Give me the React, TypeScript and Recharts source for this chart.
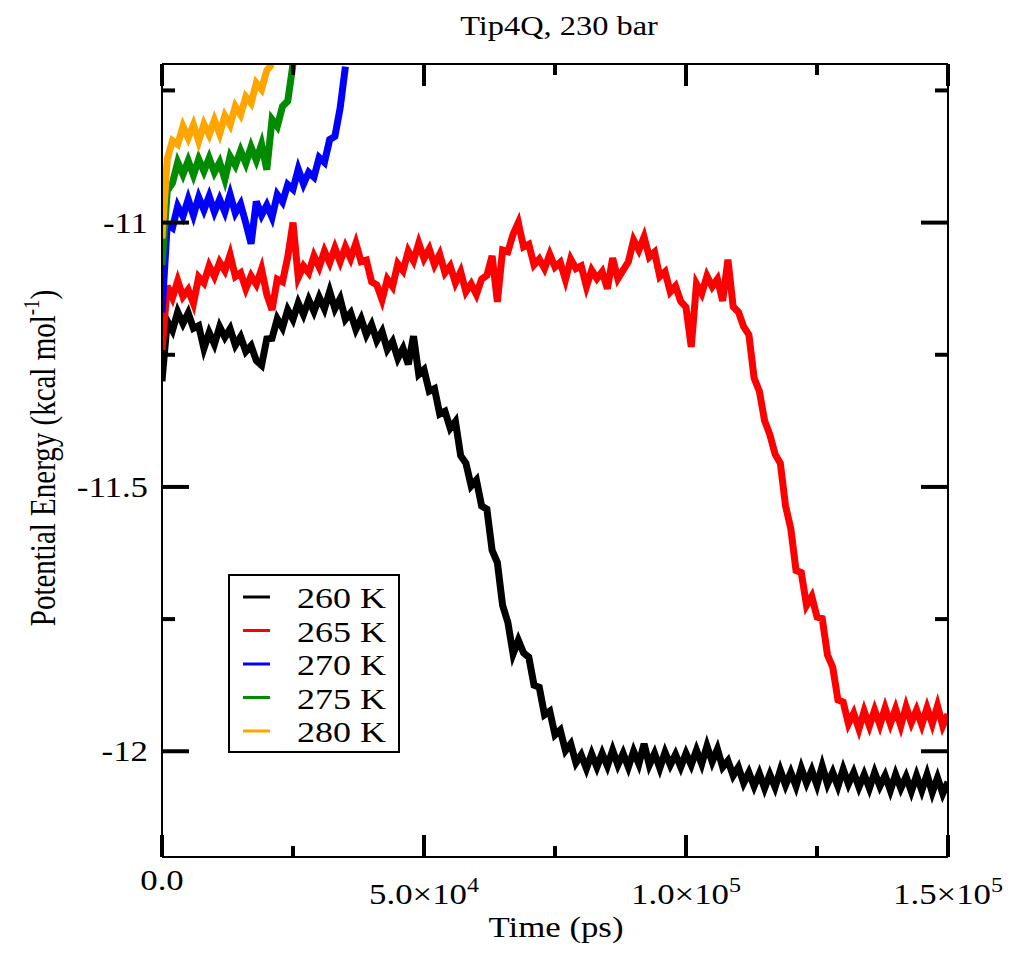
import React from 'react';
import { LineChart, Line, XAxis, YAxis, Legend } from 'recharts';

const FONT = '"Liberation Serif", "Times New Roman", serif';
const TEXT_STYLE = { fontFamily: FONT };

const TITLE = 'Tip4Q, 230 bar';
const X_TITLE = 'Time (ps)';
const SERIES_NAMES = ['260 K', '265 K', '270 K', '275 K', '280 K'];
const SERIES_KEYS = ['k260', 'k265', 'k270', 'k275', 'k280'];
const SERIES_COLORS = ['#000000', '#ff0000', '#0000ff', '#008b00', '#ffa500'];

// samples are 1000 ps apart, starting at t = 0
const TIME_STEP = 1000;

const X_TICKS = [0, 25000, 50000, 75000, 100000, 125000, 150000];
const X_MAJOR = [0, 50000, 100000, 150000];
const X_LABELS: Record<number, [string, string]> = {
  0: ['0.0', ''],
  50000: ['5.0×10', '4'],
  100000: ['1.0×10', '5'],
  150000: ['1.5×10', '5'],
};
const Y_TICKS = [-12, -11.75, -11.5, -11.25, -11, -10.75];
const Y_MAJOR = [-12, -11.5, -11];
const Y_LABELS: Record<string, string> = { '-12': '-12', '-11.5': '-11.5', '-11': '-11' };

// 260 K
const K260 = [
  -11.300, -11.186, -11.204, -11.169, -11.191, -11.171, -11.200, -11.195, -11.238, -11.208,
  -11.230, -11.197, -11.217, -11.201, -11.232, -11.216, -11.244, -11.233, -11.261, -11.270,
  -11.220, -11.219, -11.182, -11.199, -11.165, -11.183, -11.152, -11.174, -11.146, -11.168,
  -11.141, -11.163, -11.130, -11.163, -11.144, -11.183, -11.171, -11.202, -11.182, -11.212,
  -11.193, -11.223, -11.206, -11.240, -11.225, -11.257, -11.238, -11.268, -11.215, -11.287,
  -11.278, -11.319, -11.314, -11.362, -11.357, -11.389, -11.376, -11.441, -11.455, -11.498,
  -11.487, -11.536, -11.542, -11.620, -11.643, -11.724, -11.756, -11.816, -11.790, -11.814,
  -11.822, -11.875, -11.879, -11.931, -11.924, -11.969, -11.960, -11.999, -11.986, -12.022,
  -12.007, -12.033, -12.005, -12.030, -12.004, -12.028, -11.998, -12.026, -12.004, -12.030,
  -12.000, -12.024, -11.986, -12.026, -12.004, -12.032, -12.002, -12.026, -12.006, -12.030,
  -12.004, -12.026, -11.998, -12.024, -11.990, -12.020, -11.996, -12.030, -12.018, -12.046,
  -12.030, -12.060, -12.040, -12.066, -12.042, -12.070, -12.044, -12.068, -12.036, -12.064,
  -12.040, -12.066, -12.032, -12.060, -12.036, -12.064, -12.028, -12.062, -12.040, -12.066,
  -12.034, -12.062, -12.040, -12.068, -12.044, -12.070, -12.040, -12.066, -12.046, -12.074,
  -12.044, -12.070, -12.048, -12.076, -12.046, -12.074, -12.044, -12.078, -12.050, -12.080,
  -12.058,
];

// 265 K
const K265 = [
  -11.241, -11.120, -11.142, -11.110, -11.140, -11.127, -11.153, -11.103, -11.114, -11.082,
  -11.102, -11.075, -11.091, -11.061, -11.102, -11.095, -11.125, -11.101, -11.117, -11.088,
  -11.136, -11.165, -11.107, -11.112, -11.065, -11.000, -11.104, -11.082, -11.095, -11.063,
  -11.084, -11.054, -11.076, -11.048, -11.074, -11.046, -11.068, -11.039, -11.074, -11.071,
  -11.112, -11.118, -11.146, -11.107, -11.121, -11.078, -11.091, -11.054, -11.072, -11.039,
  -11.068, -11.050, -11.080, -11.060, -11.095, -11.082, -11.114, -11.093, -11.131, -11.116,
  -11.136, -11.107, -11.100, -11.063, -11.150, -11.052, -11.055, -11.022, -11.000, -11.046,
  -11.041, -11.080, -11.069, -11.087, -11.060, -11.084, -11.075, -11.108, -11.069, -11.087,
  -11.082, -11.121, -11.090, -11.106, -11.093, -11.125, -11.067, -11.106, -11.090, -11.074,
  -11.033, -11.052, -11.027, -11.065, -11.056, -11.102, -11.093, -11.131, -11.120, -11.149,
  -11.160, -11.235, -11.116, -11.134, -11.101, -11.121, -11.107, -11.148, -11.070, -11.159,
  -11.169, -11.197, -11.212, -11.294, -11.319, -11.375, -11.401, -11.438, -11.455, -11.536,
  -11.579, -11.658, -11.662, -11.724, -11.707, -11.746, -11.749, -11.818, -11.841, -11.903,
  -11.907, -11.948, -11.928, -11.958, -11.924, -11.952, -11.922, -11.950, -11.918, -11.948,
  -11.920, -11.952, -11.916, -11.946, -11.922, -11.950, -11.918, -11.948, -11.914, -11.952,
  -11.930,
];

// 270 K
const K270 = [
  -11.170, -11.003, -11.010, -10.969, -10.988, -10.956, -10.986, -10.952, -10.976, -10.950,
  -10.980, -10.956, -10.980, -10.947, -10.982, -10.965, -11.001, -11.040, -10.960, -10.986,
  -10.967, -10.990, -10.947, -10.961, -10.928, -10.937, -10.899, -10.927, -10.905, -10.914,
  -10.877, -10.886, -10.843, -10.837, -10.783, -10.705,
];

// 275 K
const K275 = [
  -11.080, -10.940, -10.925, -10.886, -10.909, -10.883, -10.910, -10.880, -10.903, -10.878,
  -10.905, -10.886, -10.918, -10.875, -10.892, -10.864, -10.888, -10.857, -10.882, -10.852,
  -10.900, -10.805, -10.818, -10.780, -10.770, -10.700,
];

// 280 K
const K280 = [
  -11.030, -10.880, -10.845, -10.852, -10.818, -10.840, -10.815, -10.846, -10.814, -10.834,
  -10.806, -10.832, -10.798, -10.815, -10.780, -10.796, -10.762, -10.774, -10.736, -10.748,
  -10.712, -10.700,
];

const SERIES_VALUES = [K260, K265, K270, K275, K280];

const rows = K260.map((_, i) => {
  const row: Record<string, number | undefined> = { t: i * TIME_STEP };
  SERIES_KEYS.forEach((key, s) => {
    row[key] = SERIES_VALUES[s][i];
  });
  return row;
});

const xTick = (side: 'bottom' | 'top') => (props: any) => {
  const { x, y, payload } = props;
  const v = payload.value;
  const major = X_MAJOR.includes(v);
  const len = major ? 22 : 11;
  const dir = side === 'bottom' ? -1 : 1;
  const label = side === 'bottom' && major ? X_LABELS[v] : null;
  return (
    <g>
      <line x1={x} x2={x} y1={y} y2={y + dir * len} stroke="#000" strokeWidth={4} />
      {label && (
        <text
          transform={`translate(${x},${y + (label[1] ? 47 : 33)}) scale(1.2,1)`}
          textAnchor="middle"
          fontSize={29}
          fontFamily={FONT}
          style={TEXT_STYLE}
          fill="#000"
        >
          {label[0]}
          {label[1] && (
            <tspan dy={-12} fontSize={20}>
              {label[1]}
            </tspan>
          )}
        </text>
      )}
    </g>
  );
};

const yTick = (side: 'left' | 'right') => (props: any) => {
  const { x, y, payload } = props;
  const v = payload.value;
  const major = Y_MAJOR.includes(v);
  const len = major ? 27 : 13;
  const dir = side === 'left' ? 1 : -1;
  const label = side === 'left' && major ? Y_LABELS[String(v)] : null;
  return (
    <g>
      <line x1={x} x2={x + dir * len} y1={y} y2={y} stroke="#000" strokeWidth={4} />
      {label && (
        <text
          transform={`translate(${x - 14},${y + 10}) scale(1.2,1)`}
          textAnchor="end"
          fontSize={29}
          fontFamily={FONT}
          style={TEXT_STYLE}
          fill="#000"
        >
          {label}
        </text>
      )}
    </g>
  );
};

const renderLegend = (props: any) => {
  const items = [...(props.payload || [])].sort(
    (a: any, b: any) => SERIES_NAMES.indexOf(a.value) - SERIES_NAMES.indexOf(b.value)
  );
  return (
    <svg width={172} height={179} style={{ display: 'block' }}>
      <rect x={1} y={1} width={170} height={177} fill="#fff" stroke="#000" strokeWidth={2} />
      {items.map((it: any, i: number) => {
        const y = 23 + i * 33.5;
        return (
          <g key={it.value}>
            <line x1={15} x2={42} y1={y} y2={y} stroke={it.color} strokeWidth={3} />
            <text
              transform={`translate(69,${y + 11}) scale(1.2,1)`}
              fontSize={30}
              fontFamily={FONT}
              style={TEXT_STYLE}
              fill="#000"
            >
              {it.value}
            </text>
          </g>
        );
      })}
    </svg>
  );
};

const axisLine = { stroke: '#000', strokeWidth: 2 };

export default function App() {
  return (
    <div style={{ position: 'absolute', left: 0, top: 0, width: 1024, height: 959, background: '#fff' }}>
      <LineChart
        width={1024}
        height={959}
        data={rows}
        margin={{ top: 63, right: 75, bottom: 101, left: 161 }}
      >
        <XAxis
          xAxisId="b"
          dataKey="t"
          type="number"
          domain={[0, 150000]}
          ticks={X_TICKS}
          interval={0}
          height={1}
          tickSize={0}
          tickMargin={0}
          tickLine={false}
          axisLine={axisLine}
          tick={xTick('bottom')}
          allowDataOverflow
        />
        <XAxis
          xAxisId="t"
          orientation="top"
          dataKey="t"
          type="number"
          domain={[0, 150000]}
          ticks={X_TICKS}
          interval={0}
          height={1}
          tickSize={0}
          tickMargin={0}
          tickLine={false}
          axisLine={axisLine}
          tick={xTick('top')}
          allowDataOverflow
        />
        <YAxis
          yAxisId="l"
          type="number"
          domain={[-12.2, -10.7]}
          ticks={Y_TICKS}
          interval={0}
          width={1}
          tickSize={0}
          tickMargin={0}
          tickLine={false}
          axisLine={axisLine}
          tick={yTick('left')}
          allowDataOverflow
        />
        <YAxis
          yAxisId="r"
          orientation="right"
          type="number"
          domain={[-12.2, -10.7]}
          ticks={Y_TICKS}
          interval={0}
          width={1}
          tickSize={0}
          tickMargin={0}
          tickLine={false}
          axisLine={axisLine}
          tick={yTick('right')}
          allowDataOverflow
        />
        <Legend
          layout="vertical"
          align="center"
          verticalAlign="middle"
          content={renderLegend}
          wrapperStyle={{ left: 228, top: 574, width: 172, height: 179 }}
        />
        {SERIES_KEYS.map((key, i) => (
          <Line
            key={key}
            xAxisId="b"
            yAxisId="l"
            type="linear"
            dataKey={key}
            name={SERIES_NAMES[i]}
            stroke={SERIES_COLORS[i]}
            strokeWidth={7}
            strokeLinejoin="miter"
            dot={false}
            activeDot={false}
            isAnimationActive={false}
          />
        ))}
      </LineChart>
      <svg
        width={1024}
        height={959}
        style={{ position: 'absolute', left: 0, top: 0, pointerEvents: 'none' }}
      >
        <text transform="translate(559,35) scale(1.2,1)" textAnchor="middle" fontSize={27} fontFamily={FONT} style={TEXT_STYLE} fill="#000">
          {TITLE}
        </text>
        <text transform="translate(556,937) scale(1.2,1)" textAnchor="middle" fontSize={29} fontFamily={FONT} style={TEXT_STYLE} fill="#000">
          {X_TITLE}
        </text>
        <text
          transform="translate(55,458) rotate(-90) scale(1,1.2)"
          textAnchor="middle"
          fontSize={29}
          fontFamily={FONT}
          style={TEXT_STYLE}
          fill="#000"
        >
          Potential Energy (kcal mol
          <tspan dy={-13} fontSize={19}>-1</tspan>
          <tspan dy={13}>)</tspan>
        </text>
      </svg>
    </div>
  );
}
